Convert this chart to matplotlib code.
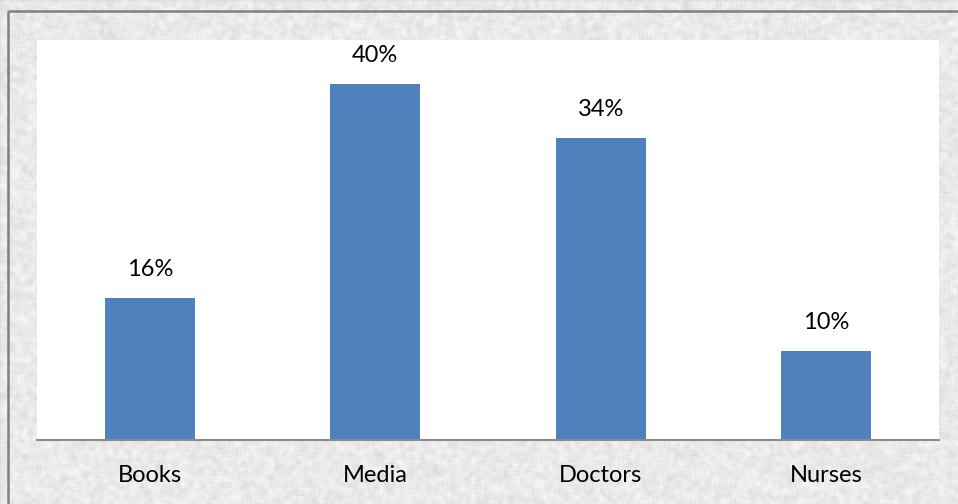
import numpy as np
import matplotlib
matplotlib.use("Agg")
import matplotlib.pyplot as plt

categories = ["Books", "Media", "Doctors", "Nurses"]
values = [16, 40, 34, 10]
labels = ["16%", "40%", "34%", "10%"]

W, H = 958, 504
fig = plt.figure(figsize=(W / 100, H / 100), dpi=100)

# textured light-gray background (decoration only)
rng = np.random.default_rng(3)
noise = rng.random((H // 2 + 2, W // 2 + 2))
k = np.ones(3) / 3
noise = np.apply_along_axis(lambda r: np.convolve(r, k, mode="same"), 1, noise)
noise = np.apply_along_axis(lambda c: np.convolve(c, k, mode="same"), 0, noise)
noise = np.kron(noise, np.ones((2, 2)))[:H, :W]
tex = 0.915 + (noise - noise.mean()) * 0.18
tex = np.clip(tex, 0.75, 1.0)
bg = fig.add_axes([0, 0, 1, 1])
bg.imshow(tex, cmap="gray", vmin=0, vmax=1, aspect="auto", extent=[0, W, H, 0])
bg.set_xlim(0, W)
bg.set_ylim(H, 0)
bg.axis("off")
# frame lines
bg.plot([8, 8], [11, H], color="#808080", lw=1.8, solid_capstyle="butt")
bg.plot([8, W], [11, 11], color="#808080", lw=1.8, solid_capstyle="butt")

ax = fig.add_axes([37 / W, (H - 440) / H, 902 / W, 400 / H])
ax.set_facecolor("white")
x = np.arange(len(categories))
ax.bar(x, values, width=0.4, color="#4F81BD", zorder=2)
ax.set_xlim(-0.5, len(categories) - 0.5)
ax.set_ylim(0, 45)
for xi, v, lab in zip(x, values, labels):
    ax.annotate(lab, (xi, v), xytext=(0, 13), textcoords="offset points",
                ha="center", va="bottom", fontsize=17, family="Lato", color="black")
for s in ["top", "right", "left"]:
    ax.spines[s].set_visible(False)
ax.spines["bottom"].set_color("#8c8c8c")
ax.spines["bottom"].set_linewidth(1.5)
ax.set_yticks([])
ax.set_xticks(x)
ax.set_xticklabels(categories, fontsize=17, family="Lato")
ax.tick_params(axis="x", length=0, pad=18)

fig.savefig("out.png", dpi=100)
